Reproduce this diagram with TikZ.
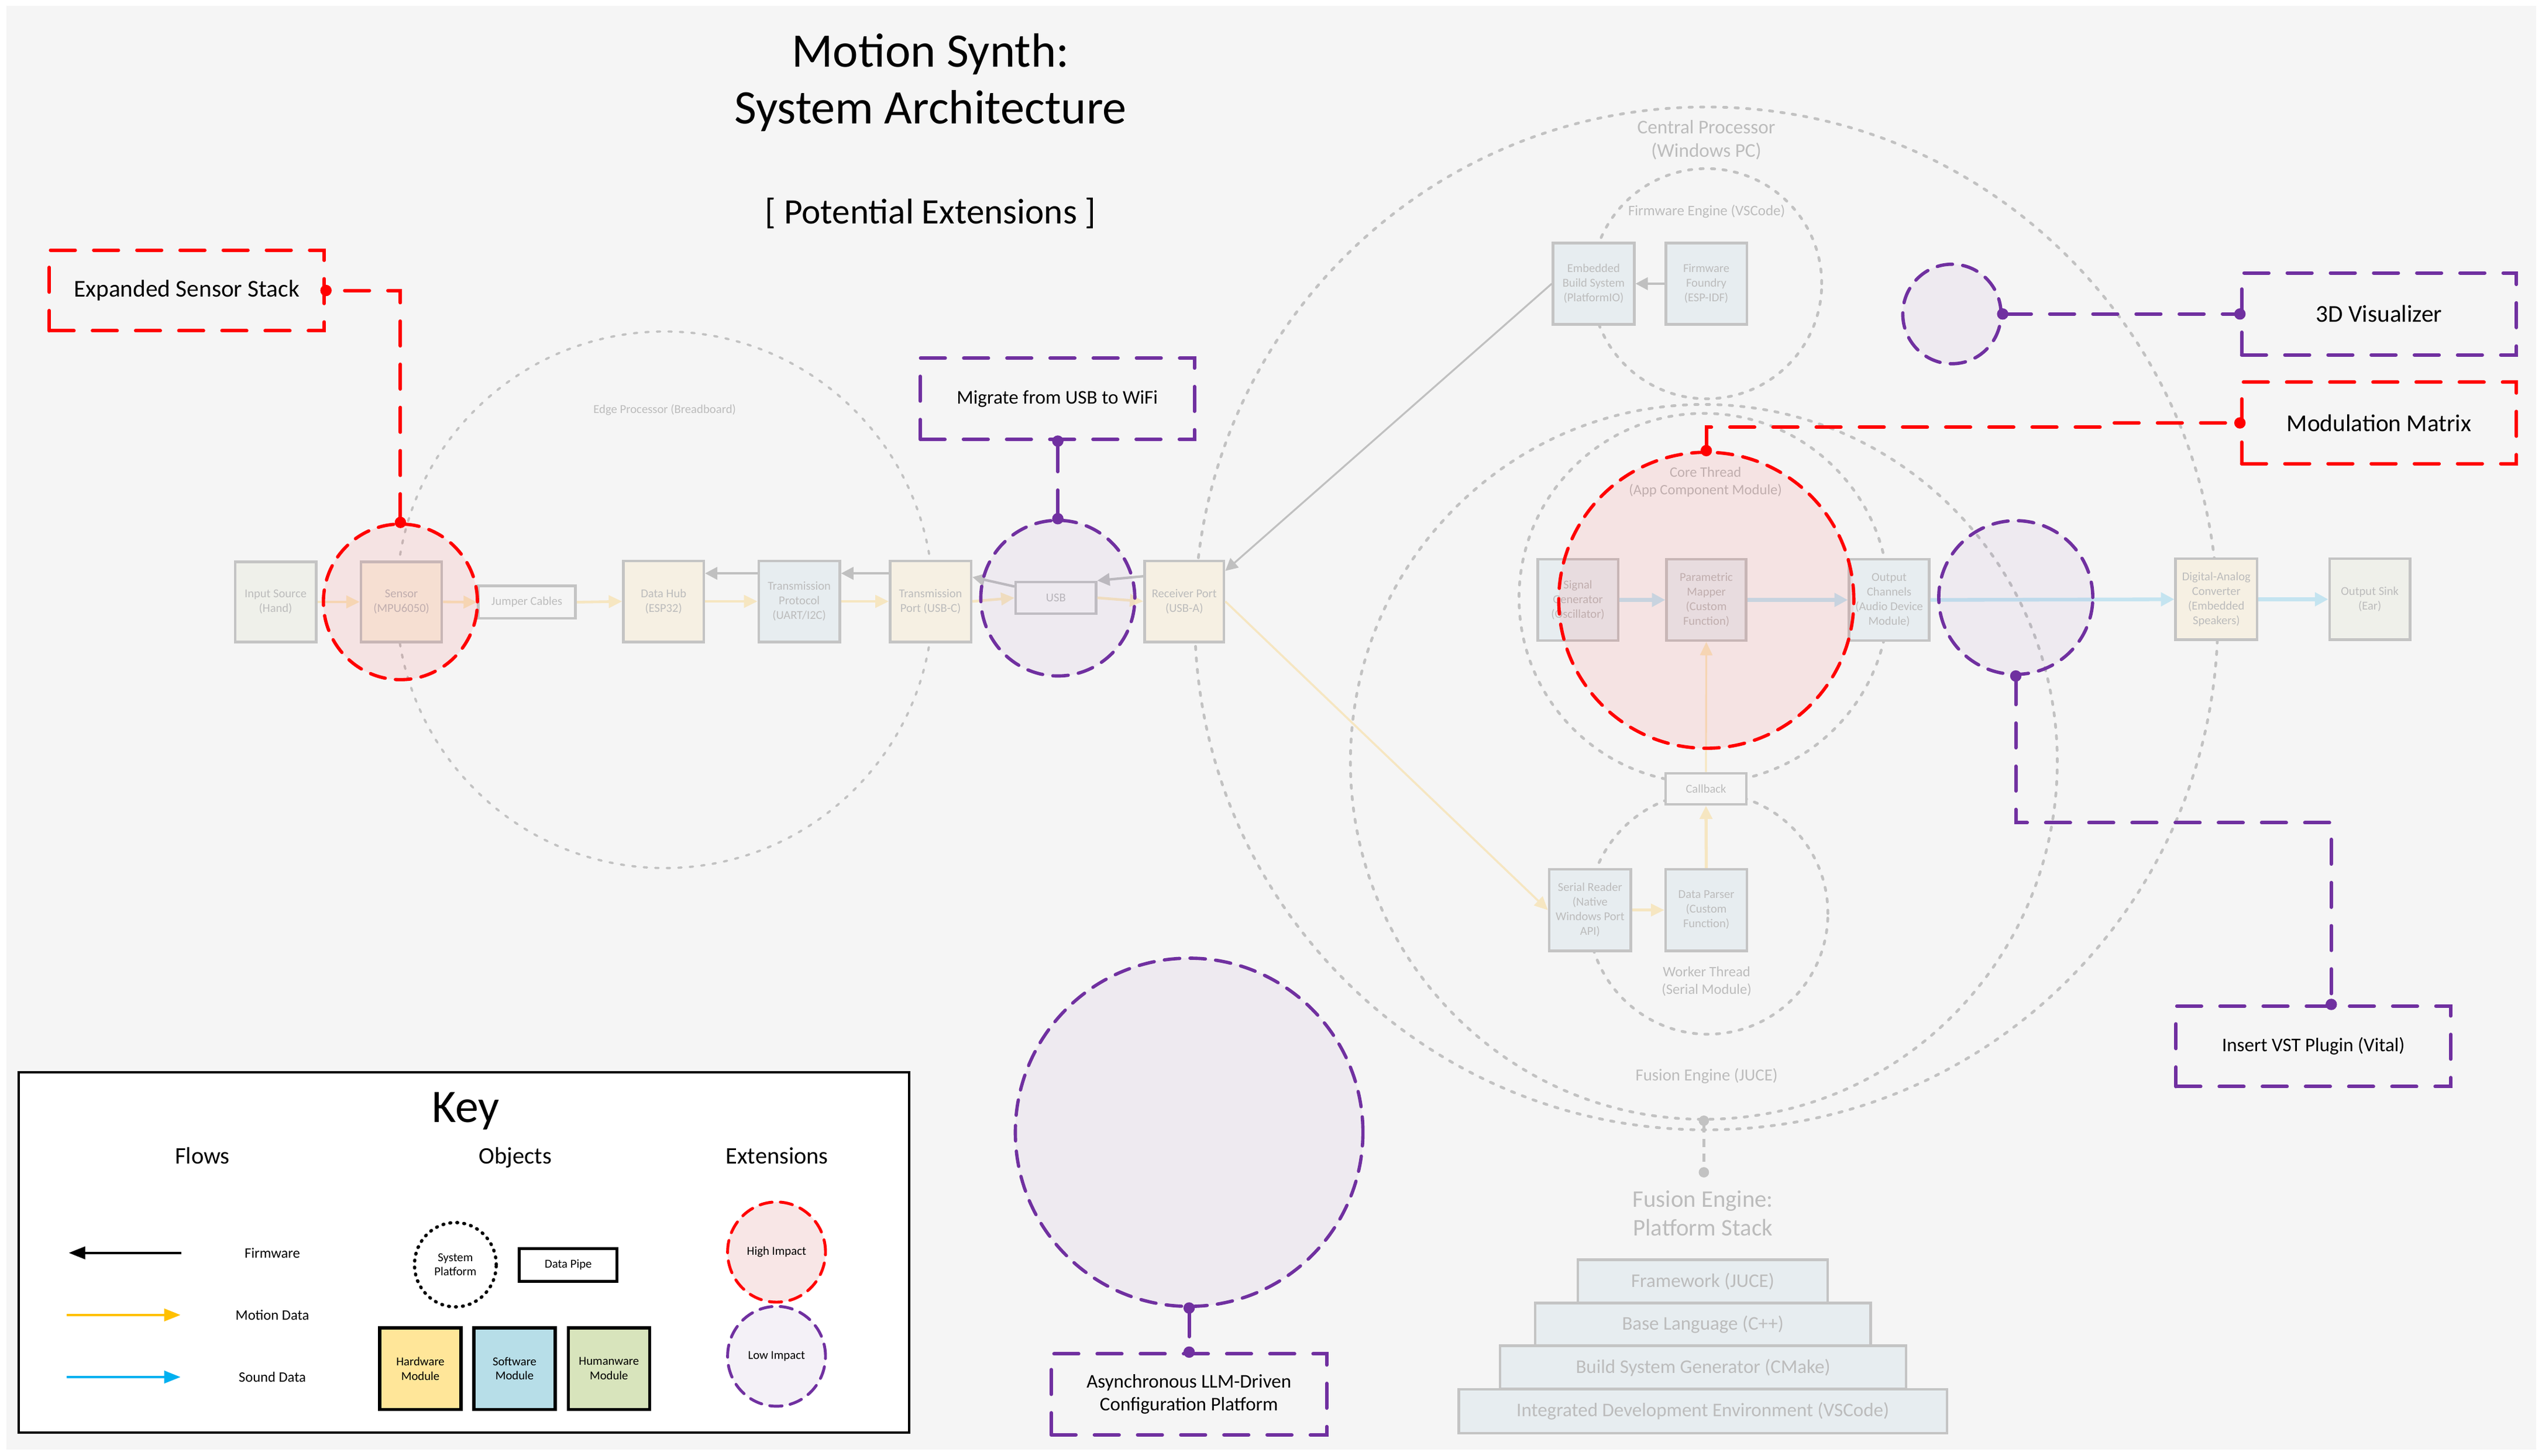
\documentclass[tikz,border=0pt]{standalone}
\usepackage{fontspec}
\setmainfont{Carlito}
\usetikzlibrary{shapes.geometric,arrows.meta,calc}
\newcommand\ux{0.78843pt}
\newcommand\fsz[2]{\fontsize{#1}{#2}\selectfont}
\definecolor{bgc}{HTML}{F5F5F5}
\definecolor{bordergray}{HTML}{C4C4C4}
\definecolor{dotgray}{HTML}{C2C2C2}
\definecolor{txtgray}{HTML}{BCBCBC}
\definecolor{hwfade}{HTML}{F6F0E3}
\definecolor{swfade}{HTML}{E7EDF0}
\definecolor{humfade}{HTML}{EFF0EA}
\definecolor{motfade}{HTML}{F6E6C1}
\definecolor{sndfade}{HTML}{C4E4F0}
\definecolor{fwgray}{HTML}{C0C0C0}
\definecolor{extred}{HTML}{FF0000}
\definecolor{extpurple}{HTML}{7030A0}
\definecolor{motion}{HTML}{FFC000}
\definecolor{sound}{HTML}{00B0F0}
\definecolor{hwc}{HTML}{FFE699}
\definecolor{swc}{HTML}{B7DEE8}
\definecolor{humc}{HTML}{D8E4BC}
\definecolor{hifill}{HTML}{F8E6E6}
\definecolor{lofill}{HTML}{F4F1F7}
\begin{document}
\begin{tikzpicture}[x=0.0277105cm,y=-0.0277105cm,
  sz/.style 2 args={minimum width=#1*\ux,minimum height=#2*\ux},
  pbox/.style={rectangle,draw=bordergray,line width=1.3pt,inner sep=0pt,align=center,text=txtgray,font=\fsz{5.85pt}{7.1pt}},
  hwbox/.style={pbox,fill=hwfade},
  swbox/.style={pbox,fill=swfade},
  humbox/.style={pbox,fill=humfade},
  pipebox/.style={pbox,fill=bgc},
  plat/.style={ellipse,draw=dotgray,line width=1.35pt,line cap=round,dash pattern=on 1.6pt off 4pt,inner sep=0pt},
  plabel/.style={text=txtgray,align=center,inner sep=0pt},
  redell/.style={ellipse,draw=extred,fill=extred,fill opacity=0.07,line width=1.6pt,line cap=round,dash pattern=on 7.5pt off 5pt,inner sep=0pt},
  purell/.style={ellipse,draw=extpurple,fill=extpurple,fill opacity=0.05,line width=1.6pt,line cap=round,dash pattern=on 7.5pt off 5pt,inner sep=0pt},
  extbox/.style={rectangle,draw=#1,line width=1.7pt,line cap=round,dash pattern=on 12pt off 9pt,inner sep=0pt,align=center,text=black},
  extconn/.style={draw=#1,line width=1.7pt,line cap=round,dash pattern=on 12pt off 9pt,{Circle[length=5.5pt]}-{Circle[length=5.5pt]},shorten <=-2.75pt,shorten >=-2.75pt},
  motarr/.style={draw=motfade,line width=1.3pt,-{Triangle[length=6.5pt,width=6pt]}},
  sndarr/.style={draw=sndfade,line width=1.8pt,-{Triangle[length=6.5pt,width=6.5pt]}},
  fwarr/.style={draw=fwgray,line width=1.2pt,-{Triangle[length=6pt,width=6pt]}},
  stackbox/.style={rectangle,draw=bordergray,line width=1.3pt,fill=swfade,inner sep=0pt,text=txtgray,font=\fsz{9.4pt}{11pt}},
  keymod/.style={rectangle,draw=black,line width=1.5pt,inner sep=0pt,align=center,font=\fsz{5.9pt}{7pt}},
  keyarr/.style={draw=#1,line width=1.2pt,-{Triangle[length=8pt,width=6pt]}},
  keyell/.style={ellipse,draw=#1,line width=1.4pt,line cap=round,dash pattern=on 6pt off 4pt,inner sep=0pt,align=center,font=\fsz{5.9pt}{7pt}},
  keyhead/.style={font=\fsz{11.5pt}{13pt},anchor=base,inner sep=0pt},
  keylbl/.style={font=\fsz{7pt}{8.5pt},inner sep=0pt},
]
\useasboundingbox (0,0) rectangle (1568,898);
\fill[white] (0,0) rectangle (1568,898);
\fill[bgc] (3.8,3.6) rectangle (1564.2,894.4);

% titles
\node[align=center,font=\fsz{23.4pt}{27.6pt},inner sep=0pt] (title) at (574,51) {Motion Synth:\\System Architecture};
\node[font=\fsz{17.4pt}{20pt},inner sep=0pt] (subtitle) at (574,131.5) {[ Potential Extensions ]};

% platforms
\node[plat,sz={331}{331},line width=1.1pt] (edge) at (410,370) {};
\node[plabel,font=\fsz{5.9pt}{7pt}] (edgelbl) at (410,253) {Edge Processor (Breadboard)};
\node[plat,sz={631}{631}] (central) at (1052.5,381.5) {};
\node[plabel,font=\fsz{9.45pt}{11.35pt}] (centrallbl) at (1052.5,86.5) {Central Processor\\(Windows PC)};
\node[plat,sz={142}{142}] (fwe) at (1052.7,175) {};
\node[plabel,font=\fsz{7.1pt}{8.5pt}] (fwelbl) at (1052.7,130.4) {Firmware Engine (VSCode)};
\node[plat,sz={436}{441}] (fusion) at (1051,470) {};
\node[plabel,font=\fsz{8.2pt}{9.8pt}] (fusionlbl) at (1052.7,663.8) {Fusion Engine (JUCE)};
\node[plat,sz={228}{228}] (core) at (1051,369) {};
\node[plabel,font=\fsz{7pt}{8.5pt}] (corelbl) at (1052,297.2) {Core Thread\\(App Component Module)};
\node[plat,sz={148}{149}] (worker) at (1053.5,563.5) {};
\node[plabel,font=\fsz{7pt}{8.5pt}] (workerlbl) at (1052.7,605.4) {Worker Thread\\(Serial Module)};

% boxes
\node[humbox,sz={50}{49.5}] (inp) at (170,371.3) {Input Source\\(Hand)};
\node[hwbox,sz={49.8}{49.5}] (sen) at (247.6,371.3) {Sensor\\(MPU6050)};
\node[pipebox,sz={60}{20}] (jmp) at (325,371.5) {Jumper Cables};
\node[hwbox,sz={49.5}{50}] (hub) at (409.3,371) {Data Hub\\(ESP32)};
\node[swbox,sz={50}{50}] (tpr) at (493,371) {Transmission\\Protocol\\(UART/I2C)};
\node[hwbox,sz={50}{50}] (tpo) at (574,371) {Transmission\\Port (USB-C)};
\node[pipebox,sz={49.5}{19.6}] (usb) at (651.3,368.8) {USB};
\node[hwbox,sz={49}{50}] (rcv) at (730.5,371) {Receiver Port\\(USB-A)};
\node[swbox,sz={50}{50}] (emb) at (983,175) {Embedded\\Build System\\(PlatformIO)};
\node[swbox,sz={50}{50}] (fnd) at (1052.5,175) {Firmware\\Foundry\\(ESP-IDF)};
\node[swbox,sz={49.7}{50.2}] (sig) at (973.3,370.1) {Signal\\Generator\\(Oscillator)};
\node[swbox,sz={49}{50.2}] (map) at (1052.5,370.1) {Parametric\\Mapper\\(Custom\\Function)};
\node[swbox,sz={49.4}{50.2}] (och) at (1165.3,370.1) {Output\\Channels\\(Audio Device\\Module)};
\node[hwbox,sz={50.2}{50}] (dac) at (1367.1,369.7) {Digital-Analog\\Converter\\(Embedded\\Speakers)};
\node[humbox,sz={49.7}{50}] (snk) at (1461.8,369.7) {Output Sink\\(Ear)};
\node[pipebox,sz={49.9}{19.2}] (cbk) at (1052.3,486.6) {Callback};
\node[swbox,sz={50.4}{50.2}] (srd) at (980.8,561.4) {Serial Reader\\(Native\\Windows Port\\API)};
\node[swbox,sz={50.2}{50.2}] (prs) at (1052.5,561.4) {Data Parser\\(Custom\\Function)};

% flows
\draw[motarr] (inp.east) -- (sen.west);
\draw[motarr] (sen.east) -- (jmp.west);
\draw[motarr] (jmp.east) -- (hub.west);
\draw[motarr] (hub.east) -- (tpr.west);
\draw[motarr] (tpr.east) -- (tpo.west);
\draw[motarr] (tpo.east) -- (usb.west);
\draw[motarr] (usb.east) -- (rcv.west);
\draw[fwarr] ($(tpo.west)+(0,-17.3)$) -- ($(tpr.east)+(0,-17.3)$);
\draw[fwarr] ($(tpr.west)+(0,-17.3)$) -- ($(hub.east)+(0,-17.3)$);
\draw[fwarr] ($(usb.west)+(0,-7)$) -- ($(tpo.east)+(0,-15)$);
\draw[fwarr] ($(rcv.west)+(0,-15.5)$) -- (usb.north east);
\draw[fwarr,line width=0.9pt] (emb.west) -- ($(rcv.north east)+(0,7)$);
\draw[fwarr] (fnd.west) -- (emb.east);
\draw[sndarr] (sig.east) -- (map.west);
\draw[sndarr] (map.east) -- (och.west);
\draw[sndarr] (och.east) -- (dac.west);
\draw[sndarr] (dac.east) -- (snk.west);
\draw[motarr,line width=1pt] (rcv.east) -- (srd.west);
\draw[motarr] (srd.east) -- (prs.west);
\draw[motarr,line width=1.5pt] (prs.north) -- (cbk.south);
\draw[motarr,line width=0.9pt] (cbk.north) -- (map.south);

% platform stack
\coordinate (stk) at (1051,723.2);
\draw[draw=dotgray,line width=1.3pt,dash pattern=on 4pt off 3pt,{Circle[length=5pt]}-{Circle[length=5pt]},shorten <=-2.5pt,shorten >=-2.5pt] (fusion.south) -- (stk);
\node[plabel,font=\fsz{11.6pt}{13.95pt}] (stacklbl) at (1050.4,748.6) {Fusion Engine:\\Platform Stack};
\node[stackbox,sz={154.2}{26.7}] (st1) at (1050.3,790.5) {Framework (JUCE)};
\node[stackbox,sz={206.8}{26.4}] (st2) at (1050.4,817.1) {Base Language (C++)};
\node[stackbox,sz={250.3}{26.7}] (st3) at (1050.5,843.6) {Build System Generator (CMake)};
\node[stackbox,sz={301}{27.2}] (st4) at (1050.4,870.6) {Integrated Development Environment (VSCode)};

% extensions
\node[redell,sz={95}{96}] (sensext) at (247,371.3) {};
\node[purell,sz={95}{96}] (usbext) at (652.5,369) {};
\node[redell,sz={182}{182.6}] (coreext) at (1052.5,370.3) {};
\node[purell,sz={95}{94.8}] (vstext) at (1243.4,368.6) {};
\node[purell,sz={60.6}{61.4}] (vizext) at (1204,193.7) {};
\node[purell,sz={214.4}{214.8}] (llmext) at (733.5,698.5) {};

\node[extbox=extred,sz={169.6}{49.7},font=\fsz{11.75pt}{14pt}] (ess) at (115.2,179.2) {Expanded Sensor Stack};
\node[extbox=extpurple,sz={169.1}{50.1},font=\fsz{9.45pt}{11.2pt}] (mig) at (652.2,246) {Migrate from USB to WiFi};
\node[extbox=extpurple,sz={169.5}{50.6},font=\fsz{11.75pt}{14pt}] (viz) at (1467.5,193.7) {3D Visualizer};
\node[extbox=extred,sz={169.5}{50.2},font=\fsz{11.75pt}{14pt}] (mm) at (1467.5,260.9) {Modulation Matrix};
\node[extbox=extpurple,sz={169.5}{49.6},font=\fsz{9.4pt}{11.2pt}] (vst) at (1427,645.5) {Insert VST Plugin (Vital)};
\node[extbox=extpurple,sz={169.9}{50},font=\fsz{9.4pt}{11.2pt}] (llm) at (733.4,860.2) {Asynchronous LLM-Driven\\Configuration Platform};

\coordinate (corek) at (1301,263.5);
\coordinate (vstk) at (1438,507.5);
\draw[extconn=extred] (sensext.north) |- (ess.east);
\draw[extconn=extpurple] (usbext.north) -- (usbext.north |- mig.south);
\draw[extconn=extred] (coreext.north) |- (corek) |- (mm.west);
\draw[extconn=extpurple] (vizext.east) -- (viz.west);
\draw[extconn=extpurple] (vstext.south) |- (vstk) -- (vstk |- vst.north);
\draw[extconn=extpurple] (llmext.south) -- (llmext.south |- llm.north);

% key
\node[draw=black,line width=1.1pt,fill=white,sz={549.3}{222.3},inner sep=0pt] (keybox) at (286.15,772.65) {};
\node[font=\fsz{22.7pt}{27pt},inner sep=0pt] (keyttl) at (287.3,685.5) {Key};
\node[keyhead] (kflows) at (124.9,717.8) {Flows};
\node[keyhead] (kobj) at (317.9,717.8) {Objects};
\node[keyhead] (kext) at (479.3,717.8) {Extensions};
\coordinate (kfwA) at (112,772.9);
\coordinate (kfwB) at (42.4,772.9);
\coordinate (kmoA) at (41.3,811.2);
\coordinate (kmoB) at (111.4,811.2);
\coordinate (ksdA) at (41.3,849.5);
\coordinate (ksdB) at (111.4,849.5);
\draw[keyarr=black] (kfwA) -- (kfwB);
\draw[keyarr=motion] (kmoA) -- (kmoB);
\draw[keyarr=sound] (ksdA) -- (ksdB);
\node[keylbl] (kfwl) at (168,772.9) {Firmware};
\node[keylbl] (kmol) at (168,811.2) {Motion Data};
\node[keylbl] (ksdl) at (168,849.5) {Sound Data};
\node[ellipse,draw=black,line width=1.6pt,line cap=round,dash pattern=on 0.4pt off 3pt,sz={50.4}{52},inner sep=0pt,align=center,font=\fsz{5.9pt}{7pt}] (ksys) at (280.9,780.2) {System\\Platform};
\node[keymod,fill=white,sz={60.3}{20.2}] (kpipe) at (350.5,780.3) {Data Pipe};
\node[keymod,fill=hwc,sz={50.2}{50.3}] (khw) at (259.3,844.3) {Hardware\\Module};
\node[keymod,fill=swc,sz={50.2}{50.3}] (ksw) at (317.4,844.3) {Software\\Module};
\node[keymod,fill=humc,sz={50.2}{50.3}] (khum) at (375.6,844.3) {Humanware\\Module};
\node[keyell=extred,fill=hifill,sz={60.4}{61.8}] (khi) at (479,772.4) {High Impact};
\node[keyell=extpurple,fill=lofill,sz={60.4}{61.6}] (klo) at (479,836.7) {Low Impact};
\end{tikzpicture}
\end{document}
